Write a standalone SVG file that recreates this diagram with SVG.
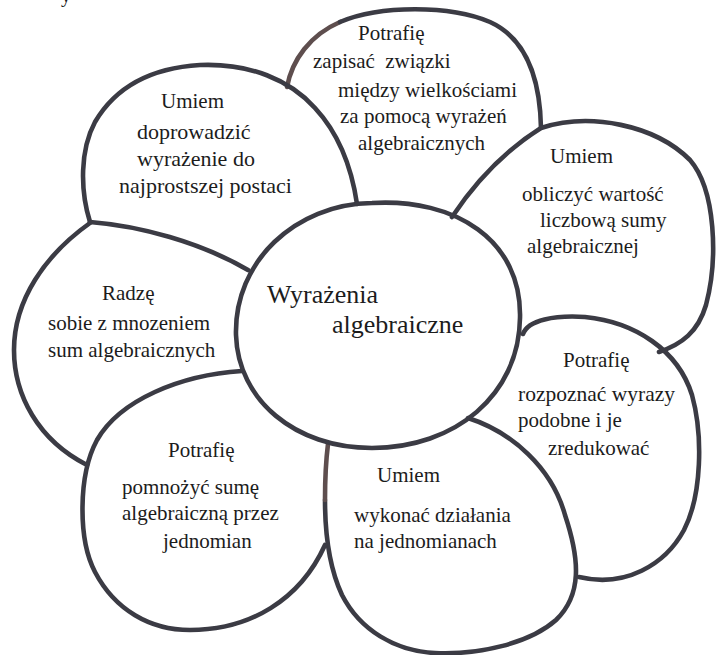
<svg xmlns="http://www.w3.org/2000/svg" width="716" height="655" viewBox="0 0 716 655">
<style>
.o{fill:none;stroke:#3b3b44;stroke-width:4.6;stroke-linecap:round;stroke-linejoin:round}
.b{stroke:#5e4e4e}
</style>
<rect width="716" height="655" fill="#ffffff"/>
<g font-family="Liberation Serif, Times New Roman, serif" font-size="21" fill="#1c1c1c">
<text x="61" y="2" font-size="20">y</text>

<g id="petal-top">
<path class="o b" d="M287,87 C292,60 310,35 340,22"/>
<path class="o" d="M340,22 C380,5 450,5 490,22 C525,38 540,75 541,128"/>
<text x="358" y="40">Potrafię</text>
<text x="313" y="68" xml:space="preserve">zapisać  związki</text>
<text x="338" y="97">między wielkościami</text>
<text x="340" y="123">za pomocą wyrażeń</text>
<text x="358" y="150">algebraicznych</text>
</g>

<g id="petal-top-left">
<path class="o" d="M90,222 C80,190 80,150 95,122 C115,88 150,68 200,65 C250,63 290,80 315,108 C340,135 352,170 357,204"/>
<path class="o" d="M90,222 C140,226 200,242 248,270"/>
<text x="161" y="108">Umiem</text>
<text x="137" y="139" font-size="22">doprowadzić</text>
<text x="137" y="166" font-size="22">wyrażenie do</text>
<text x="119" y="193" font-size="22">najprostszej postaci</text>
</g>

<g id="petal-right">
<path class="o" d="M452,217 Q490,160 541,128 C590,112 655,125 690,160 C716,190 718,260 706,305 C698,332 682,344 659,352"/>
<text x="550" y="163">Umiem</text>
<text x="522" y="201">obliczyć wartość</text>
<text x="540" y="227">liczbową sumy</text>
<text x="527" y="253">algebraicznej</text>
</g>

<g id="petal-lower-right">
<path class="o" d="M523,334 C528,320 555,315 585,317 C635,322 678,350 692,395 C703,435 702,495 684,530 C665,565 625,588 579,577"/>
<text x="563" y="367">Potrafię</text>
<text x="518" y="401" font-size="21.5">rozpoznać wyrazy</text>
<text x="518" y="427">podobne i je</text>
<text x="548" y="455">zredukować</text>
</g>

<g id="petal-bottom">
<path class="o" d="M468,418 C512,432 552,468 565,515 C580,560 582,595 556,620 C530,643 480,655 435,653 C395,651 360,630 342,595 C328,565 325,530 325,500"/>
<path class="o b" d="M325,500 C325,480 326,460 328,444"/>
<text x="377" y="482">Umiem</text>
<text x="354" y="522">wykonać działania</text>
<text x="354" y="548">na jednomianach</text>
</g>

<g id="petal-bottom-left">
<path class="o" d="M242,371 C180,375 120,400 97,440 C78,475 78,540 95,572 C115,610 150,630 190,630 C250,630 300,600 325,545"/>
<text x="168" y="457">Potrafię</text>
<text x="122" y="494">pomnożyć sumę</text>
<text x="122" y="520">algebraiczną przez</text>
<text x="163" y="548">jednomian</text>
</g>

<g id="petal-left">
<path class="o" d="M90,223 C45,255 14,300 14,350 C14,395 38,440 87,465"/>
<text x="102" y="300">Radzę</text>
<text x="48" y="330">sobie z mnozeniem</text>
<text x="48" y="357">sum algebraicznych</text>
</g>

<g id="center">
<path class="o" d="M236,335 C234,262 295,204 372,203 C455,198 522,240 520,318 C519,395 455,448 372,448 C295,448 238,400 236,335 Z"/>
<text x="267" y="303" font-size="26">Wyrażenia</text>
<text x="332" y="333" font-size="26">algebraiczne</text>
</g>
</g>
</svg>
